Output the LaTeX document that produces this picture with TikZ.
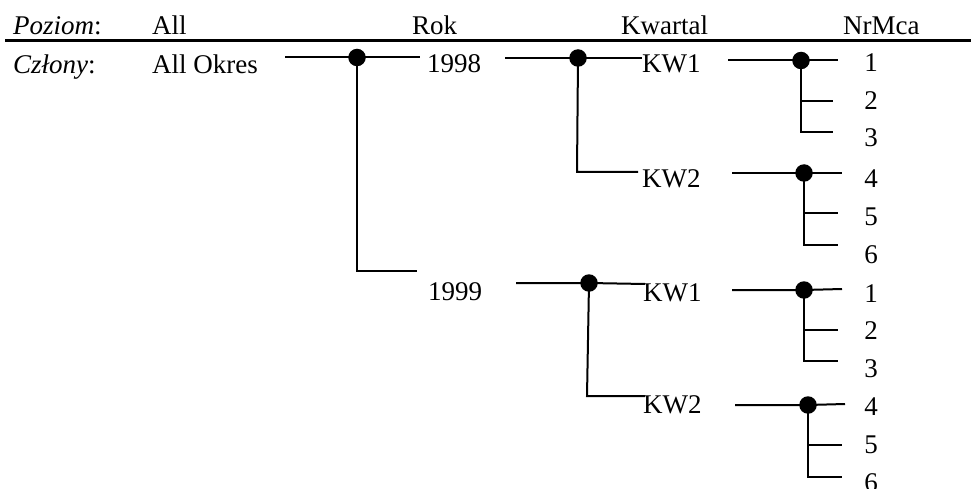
\documentclass[tikz,border=0pt]{standalone}
\usepackage{fontspec}
\setmainfont{Liberation Serif}
\begin{document}
\begin{tikzpicture}[x=1pt,y=-1pt,
  lbl/.style={inner sep=0pt, anchor=base west, font=\fontsize{27}{32}\selectfont},
  num/.style={inner sep=0pt, anchor=base, font=\fontsize{27}{32}\selectfont},
  conn/.style={line width=2pt},
  rule/.style={line width=3pt},
  dot/.style={circle, fill=black, inner sep=0pt, minimum size=17.5pt}]
\useasboundingbox (0,0) rectangle (971,489);
% header
\node[lbl] (hp) at (13,34.5) {\textit{Poziom}:};
\node[lbl] (hall) at (152,34.5) {All};
\node[lbl] (hrok) at (412,34.5) {Rok};
\node[lbl] (hkw) at (621,34.5) {Kwartal};
\node[lbl] (hnr) at (843,34.5) {NrMca};
\coordinate (rl) at (5,41);
\coordinate (rr) at (971,41);
\draw[rule] (rl) -- (rr);
% members
\node[lbl] (hc) at (13,74) {\textit{Człony}:};
\node[lbl] (allok) at (152,74) {All Okres};
\node[lbl] (y98) at (427,73) {1998};
\node[lbl] (y99) at (428,300) {1999};
\node[lbl] (q981) at (642,73) {KW1};
\node[lbl] (q982) at (642,187) {KW2};
\node[lbl] (q991) at (643,301) {KW1};
\node[lbl] (q992) at (643,413) {KW2};
% months
\node[num] (m1a) at (871,72) {1};
\node[num] (m2a) at (871,110) {2};
\node[num] (m3a) at (871,147) {3};
\node[num] (m4a) at (871,187) {4};
\node[num] (m5a) at (871,225) {5};
\node[num] (m6a) at (871,263) {6};
\node[num] (m1b) at (871,302) {1};
\node[num] (m2b) at (871,339) {2};
\node[num] (m3b) at (871,377) {3};
\node[num] (m4b) at (871,415) {4};
\node[num] (m5b) at (871,453) {5};
\node[num] (m6b) at (871,491) {6};
% dots
\node[dot] (d0) at (357,57.5) {};
\node[dot] (d98) at (578,58) {};
\node[dot] (d99) at (589,283) {};
\node[dot] (da1) at (801,60.5) {};
\node[dot] (da2) at (804,173) {};
\node[dot] (db1) at (804,290) {};
\node[dot] (db2) at (808,405) {};
% level 1
\coordinate (a0) at (285,57.5);
\coordinate (a1) at (420,57.5);
\coordinate (a2) at (357,271);
\coordinate (a3) at (417,271);
\draw[conn] (a0) -- (d0.center) -- (a1);
\draw[conn] (d0.center) -- (a2) -- (a3);
% 1998 quarters
\coordinate (b0) at (505,58);
\coordinate (b1) at (642,58);
\coordinate (b2) at (577,172);
\coordinate (b3) at (638,172);
\draw[conn] (b0) -- (d98.center) -- (b1);
\draw[conn] (d98.center) -- (b2) -- (b3);
% 1999 quarters
\coordinate (c0) at (516,283);
\coordinate (c1) at (645,284);
\coordinate (c2) at (587,396);
\coordinate (c3) at (645,396);
\draw[conn] (c0) -- (d99.center) -- (c1);
\draw[conn] (d99.center) -- (c2) -- (c3);
% months 1998 KW1
\coordinate (e0) at (728,60.5);
\coordinate (e1) at (838,60.5);
\coordinate (e2) at (801,101);
\coordinate (e3) at (833,101);
\coordinate (e4) at (801,132);
\coordinate (e5) at (833,132);
\draw[conn] (e0) -- (da1.center) -- (e1);
\draw[conn] (da1.center) -- (e4) -- (e5);
\draw[conn] (e2) -- (e3);
% months 1998 KW2
\coordinate (f0) at (732,173);
\coordinate (f1) at (842,173);
\coordinate (f2) at (804,213);
\coordinate (f3) at (838,213);
\coordinate (f4) at (804,245);
\coordinate (f5) at (838,245);
\draw[conn] (f0) -- (da2.center) -- (f1);
\draw[conn] (da2.center) -- (f4) -- (f5);
\draw[conn] (f2) -- (f3);
% months 1999 KW1
\coordinate (g0) at (732,290);
\coordinate (g1) at (842,289);
\coordinate (g2) at (804,330);
\coordinate (g3) at (838,330);
\coordinate (g4) at (804,361);
\coordinate (g5) at (838,361);
\draw[conn] (g0) -- (db1.center) -- (g1);
\draw[conn] (db1.center) -- (g4) -- (g5);
\draw[conn] (g2) -- (g3);
% months 1999 KW2
\coordinate (h0) at (735,405);
\coordinate (h1) at (845,404);
\coordinate (h2) at (808,445);
\coordinate (h3) at (842,445);
\coordinate (h4) at (808,477);
\coordinate (h5) at (842,477);
\draw[conn] (h0) -- (db2.center) -- (h1);
\draw[conn] (db2.center) -- (h4) -- (h5);
\draw[conn] (h2) -- (h3);
\end{tikzpicture}
\end{document}
